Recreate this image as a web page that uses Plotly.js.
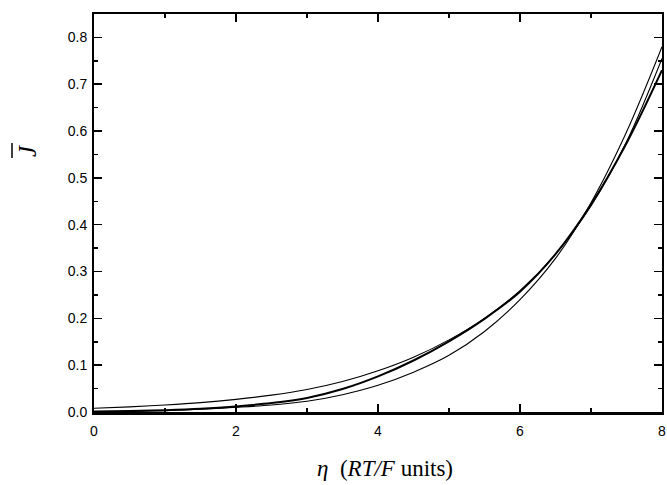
<!DOCTYPE html>
<html>
<head>
<meta charset="utf-8">
<script src="https://cdn.plot.ly/plotly-3.0.1.min.js"></script>
<style>html,body{margin:0;padding:0;background:#fff;}#chart{width:667px;height:485px;}</style>
</head>
<body>
<div id="chart"></div>
<script>
// eta values (RT/F units)
const eta = [0, 0.5, 1, 1.5, 2, 2.5, 3, 3.5, 4, 4.5, 5, 5.5, 6, 6.5, 7, 7.5, 8];
// series A: thin curve, highest at low eta
const curveA = [0.008, 0.011, 0.015, 0.020, 0.027, 0.036, 0.048, 0.065, 0.088, 0.117, 0.154, 0.200, 0.259, 0.337, 0.440, 0.577, 0.755];
// series B: thick curve
const curveB = [0.001, 0.002, 0.004, 0.007, 0.012, 0.019, 0.030, 0.049, 0.076, 0.110, 0.151, 0.199, 0.257, 0.337, 0.443, 0.574, 0.730];
// series C: thin curve, lowest at mid eta, steepest
const curveC = [0.000, 0.001, 0.003, 0.006, 0.010, 0.015, 0.023, 0.037, 0.057, 0.085, 0.121, 0.172, 0.240, 0.328, 0.447, 0.598, 0.780];

const xTickVals = [0, 2, 4, 6, 8];
const yTickVals = [0, 0.1, 0.2, 0.3, 0.4, 0.5, 0.6, 0.7, 0.8];

const L = 94, R = 662, T = 14, B = 412;
const pw = R - L, ph = B - T;
const px = v => (v - L) / pw;
const py = v => (B - v) / ph;

const traces = [
  {x: eta, y: curveA, mode: 'lines', line: {color: '#000', width: 1.1, shape: 'spline', smoothing: 1}, hoverinfo: 'skip'},
  {x: eta, y: curveB, mode: 'lines', line: {color: '#000', width: 2, shape: 'spline', smoothing: 1}, hoverinfo: 'skip'},
  {x: eta, y: curveC, mode: 'lines', line: {color: '#000', width: 1.1, shape: 'spline', smoothing: 1}, hoverinfo: 'skip'}
];

const tickFont = {family: 'Liberation Sans, Arial, sans-serif', size: 14, color: '#000'};

const layout = {
  width: 667, height: 485,
  margin: {l: L, r: 667 - R, t: T, b: 485 - B, pad: 0},
  paper_bgcolor: '#fff', plot_bgcolor: '#fff',
  showlegend: false,
  xaxis: {
    range: [0, 8], tickvals: xTickVals, ticktext: xTickVals.map(String),
    ticks: 'inside', ticklen: 8, tickwidth: 1.5, tickcolor: '#000',
    minor: {dtick: 1, ticks: 'inside', ticklen: 4, tickwidth: 1.5, tickcolor: '#000'},
    showline: true, linewidth: 2.5, linecolor: '#000', mirror: 'ticks',
    showgrid: false, zeroline: false, tickfont: tickFont, ticklabelstandoff: 5, fixedrange: true
  },
  yaxis: {
    range: [0, 0.85], tickvals: yTickVals, ticktext: yTickVals.map(v => v.toFixed(1)),
    ticks: 'inside', ticklen: 8, tickwidth: 1.5, tickcolor: '#000',
    minor: {dtick: 0.05, ticks: 'inside', ticklen: 4, tickwidth: 1.5, tickcolor: '#000'},
    showline: true, linewidth: 2, linecolor: '#000', mirror: 'ticks',
    showgrid: false, zeroline: false, tickfont: tickFont, ticklabelstandoff: 2, fixedrange: true
  },
  annotations: [
    {text: '<i>η</i>\u00a0\u00a0(<i>RT/F</i> units)', xref: 'paper', yref: 'paper',
     x: px(385), y: py(468), xanchor: 'center', yanchor: 'middle', showarrow: false,
     font: {family: 'Liberation Serif, Times New Roman, serif', size: 23, color: '#000'}},
    {text: '<i>J</i>', xref: 'paper', yref: 'paper', textangle: -90,
     x: px(27), y: py(151), xanchor: 'center', yanchor: 'middle', showarrow: false,
     font: {family: 'Liberation Serif, Times New Roman, serif', size: 25, color: '#000'}}
  ],
  shapes: [
    {type: 'line', xref: 'paper', yref: 'paper', x0: px(12), x1: px(12), y0: py(143), y1: py(158),
     line: {color: '#000', width: 1.5}}
  ]
};

Plotly.newPlot('chart', traces, layout, {staticPlot: true, displayModeBar: false});
</script>
</body>
</html>
